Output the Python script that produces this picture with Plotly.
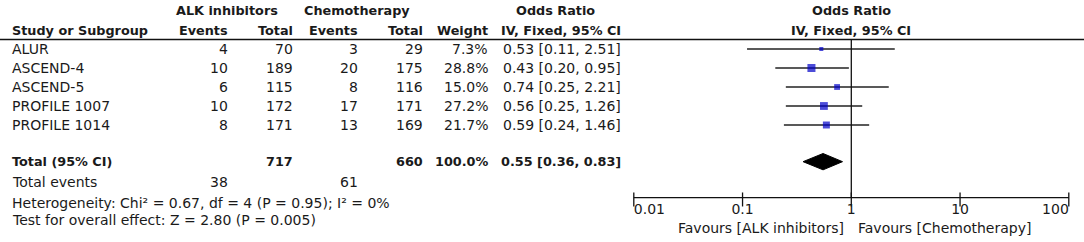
import math
import plotly.graph_objects as go

# ---------------- data ----------------
studies = ["ALUR", "ASCEND-4", "ASCEND-5", "PROFILE 1007", "PROFILE 1014"]
alk_events = [4, 10, 6, 10, 8]
alk_total = [70, 189, 115, 172, 171]
chemo_events = [3, 20, 8, 17, 13]
chemo_total = [29, 175, 116, 171, 169]
weights = [7.3, 28.8, 15.0, 27.2, 21.7]
odds_ratio = [0.53, 0.43, 0.74, 0.56, 0.59]
ci_low = [0.11, 0.20, 0.25, 0.25, 0.24]
ci_high = [2.51, 0.95, 2.21, 1.26, 1.46]

total_alk = 717
total_chemo = 660
total_weight = 100.0
events_alk = 38
events_chemo = 61
pooled_or = [0.55]
pooled_low = [0.36]
pooled_high = [0.83]

heterogeneity_text = "Heterogeneity: Chi² = 0.67, df = 4 (P = 0.95); I² = 0%"
overall_text = "Test for overall effect: Z = 2.80 (P = 0.005)"
axis_ticks = [0.01, 0.1, 1, 10, 100]
axis_tick_labels = ["0.01", "0.1", "1", "10", "100"]
favours_left = "Favours [ALK inhibitors]"
favours_right = "Favours [Chemotherapy]"

# ---------------- layout helpers ----------------
W, H = 1084, 242
FONT = "DejaVu Sans"
TXT = "#1a1a1a"
FS = 14
FSB = 12.8
ROW0_PX, ROW_PX = 49.0, 19.0      # pixel y of row 0, row pitch
X1_PX, DEC_PX = 851.3, 108.75     # pixel x of OR = 1, px per decade


def px(x_ref):
    return x_ref / W


total_row = 5.93
events_row = 7
het_row = 8.1
test_row = 9
header_row = -1
group_row = -2.05
rule_row = -0.5
axis_row = 7.82
ticklab_row = 8.5
favour_row = 9.42

fig = go.Figure()

# confidence interval lines
cx, cy = [], []
for i, (lo, hi) in enumerate(zip(ci_low, ci_high)):
    cx += [lo, hi, None]
    cy += [i, i, None]
fig.add_trace(go.Scatter(x=cx, y=cy, mode="lines",
                         line=dict(color="#222222", width=1.5), hoverinfo="skip"))

# vertical line of no effect
fig.add_trace(go.Scatter(x=[1, 1], y=[rule_row, axis_row], mode="lines",
                         line=dict(color="#111111", width=1.3), hoverinfo="skip"))

# study squares (size from weight)
fig.add_trace(go.Scatter(
    x=odds_ratio, y=list(range(len(studies))), mode="markers",
    marker=dict(symbol="square", color="#0000C8",
                size=[1.5 * math.sqrt(w) for w in weights],
                line=dict(width=0)),
    hoverinfo="skip"))

# pooled diamond
h = 0.43
fig.add_trace(go.Scatter(
    x=[pooled_low[0], pooled_or[0], pooled_high[0], pooled_or[0], pooled_low[0]],
    y=[total_row, total_row - h, total_row, total_row + h, total_row],
    mode="lines", fill="toself", fillcolor="#000000",
    line=dict(color="#000000", width=1), hoverinfo="skip"))

# bottom axis
fig.add_trace(go.Scatter(x=[axis_ticks[0], axis_ticks[-1]], y=[axis_row, axis_row],
                         mode="lines", line=dict(color="#111111", width=1.3),
                         hoverinfo="skip"))
fig.add_trace(go.Scatter(x=axis_ticks, y=[axis_row + 0.1] * len(axis_ticks), mode="markers",
                         marker=dict(symbol="line-ns-open", size=10, color="#111111",
                                     line=dict(color="#111111", width=1.3)),
                         hoverinfo="skip"))
tpos = ["middle right"] + ["middle center"] * (len(axis_ticks) - 2) + ["middle left"]
fig.add_trace(go.Scatter(x=axis_ticks, y=[ticklab_row] * len(axis_ticks), mode="text",
                         text=axis_tick_labels, textposition=tpos,
                         textfont=dict(family=FONT, size=FS, color=TXT),
                         hoverinfo="skip"))

# ---------------- table text ----------------
ann = []


def add(text, xref_px, row, anchor="left", bold=False):
    size = FS
    if bold:
        text = "<b>" + text + "</b>"
        size = FSB
    ann.append(dict(text=text, x=px(xref_px), y=row, xref="paper", yref="y",
                    xanchor=anchor, yanchor="middle", showarrow=False,
                    font=dict(family=FONT, size=size, color=TXT), borderpad=0))


COL_STUDY = 11
COL_AE, COL_AT, COL_CE, COL_CT, COL_W, COL_OR = 229, 294, 359, 424, 489, 622
X1_REF = 851.3

add("ALK inhibitors", 227, group_row, "center", True)
add("Chemotherapy", 357, group_row, "center", True)
add("Odds Ratio", 555, group_row, "center", True)
add("Study or Subgroup", COL_STUDY, header_row, "left", True)
add("Events", COL_AE, header_row, "right", True)
add("Total", COL_AT, header_row, "right", True)
add("Events", COL_CE, header_row, "right", True)
add("Total", COL_CT, header_row, "right", True)
add("Weight", COL_W, header_row, "right", True)
add("IV, Fixed, 95% CI", COL_OR, header_row, "right", True)
add("Odds Ratio", X1_REF, group_row, "center", True)
add("IV, Fixed, 95% CI", X1_REF, header_row, "center", True)

for i, s in enumerate(studies):
    add(s, COL_STUDY, i)
    add(str(alk_events[i]), COL_AE, i, "right")
    add(str(alk_total[i]), COL_AT, i, "right")
    add(str(chemo_events[i]), COL_CE, i, "right")
    add(str(chemo_total[i]), COL_CT, i, "right")
    add(f"{weights[i]:.1f}%", COL_W, i, "right")
    add(f"{odds_ratio[i]:.2f} [{ci_low[i]:.2f}, {ci_high[i]:.2f}]", COL_OR, i, "right")

add("Total (95% CI)", COL_STUDY, total_row, "left", True)
add(str(total_alk), COL_AT, total_row, "right", True)
add(str(total_chemo), COL_CT, total_row, "right", True)
add(f"{total_weight:.1f}%", COL_W, total_row, "right", True)
add(f"{pooled_or[0]:.2f} [{pooled_low[0]:.2f}, {pooled_high[0]:.2f}]", COL_OR, total_row, "right", True)

add("Total events", COL_STUDY, events_row)
add(str(events_alk), COL_AE, events_row, "right")
add(str(events_chemo), COL_CE, events_row, "right")
add(heterogeneity_text, COL_STUDY, het_row)
add(overall_text, COL_STUDY, test_row)

add(favours_left, X1_REF - 6, favour_row, "right")
add(favours_right, X1_REF + 6, favour_row, "left")

# header rule
shapes = [dict(type="line", xref="paper", yref="y", x0=0, x1=1, y0=rule_row, y1=rule_row,
               line=dict(color="#111111", width=1.3))]

y_top = -ROW0_PX / ROW_PX
y_bot = (H - ROW0_PX) / ROW_PX
x_left = -X1_PX / DEC_PX
x_right = (W - X1_PX) / DEC_PX

fig.update_layout(
    width=W, height=H, margin=dict(l=0, r=0, t=0, b=0),
    paper_bgcolor="white", plot_bgcolor="white", showlegend=False,
    xaxis=dict(type="log", range=[x_left, x_right], visible=False, domain=[0, 1]),
    yaxis=dict(range=[y_bot, y_top], visible=False, domain=[0, 1]),
    annotations=ann, shapes=shapes,
)

fig.write_html("out.html", config={"displayModeBar": False},
               post_script="document.body.style.margin='0';document.body.style.overflow='hidden';")
